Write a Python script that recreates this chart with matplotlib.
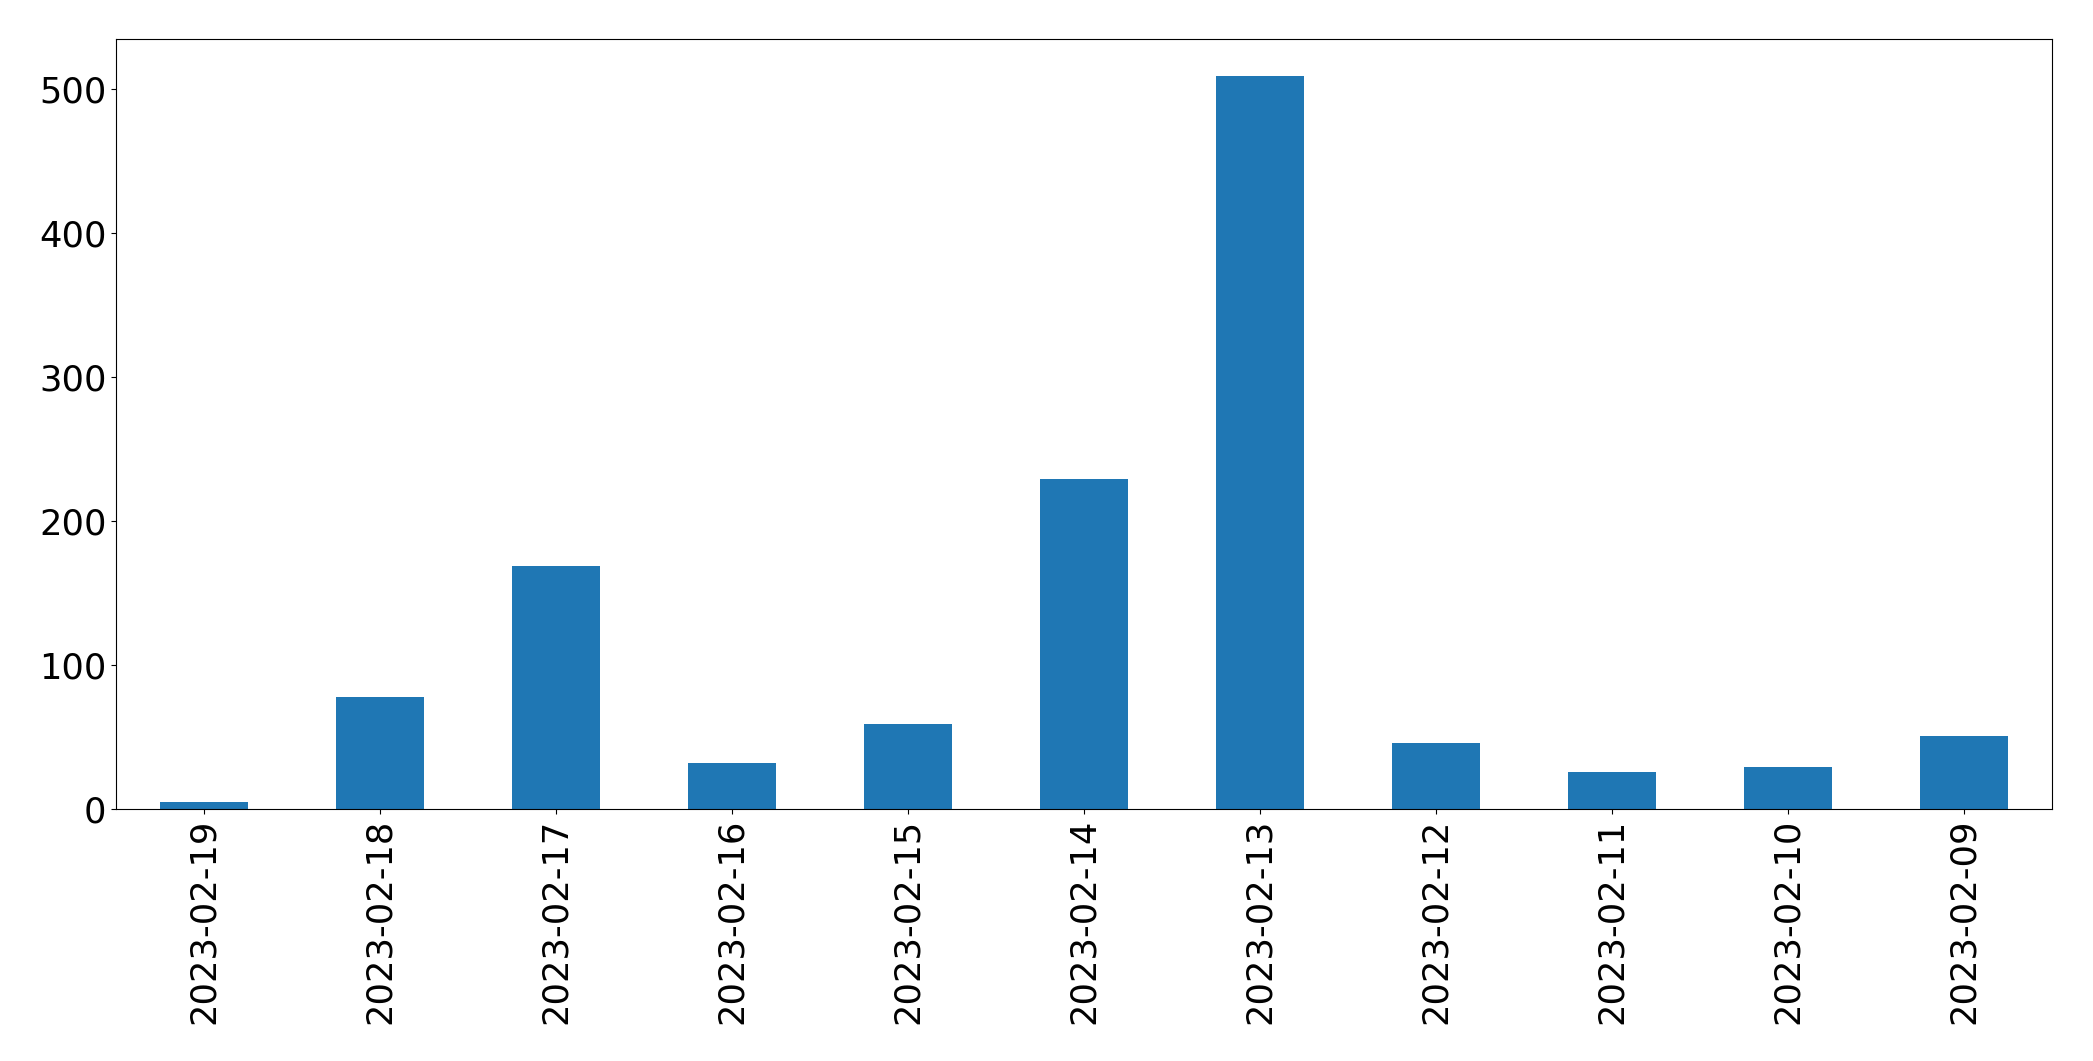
import matplotlib
matplotlib.use('Agg')
import matplotlib.pyplot as plt

dates = ['2023-02-19', '2023-02-18', '2023-02-17', '2023-02-16', '2023-02-15', '2023-02-14',
         '2023-02-13', '2023-02-12', '2023-02-11', '2023-02-10', '2023-02-09']
counts = [5, 78, 169, 32, 59, 229, 509, 46, 26, 29, 51]

fig, ax = plt.subplots(figsize=(20.93, 10.61), dpi=100)
fig.subplots_adjust(left=0.0555, right=0.9805, top=0.963, bottom=0.2375)

x = range(len(dates))
ax.bar(x, counts, width=0.5, color='#1f77b4')
ax.set_xlim(-0.5, len(dates) - 0.5)
ax.set_xticks(list(x))
ax.set_xticklabels(dates, rotation=90)
ax.set_yticks([0, 100, 200, 300, 400, 500])
ax.tick_params(labelsize=25.4)

plt.savefig('out.png', dpi=100)
